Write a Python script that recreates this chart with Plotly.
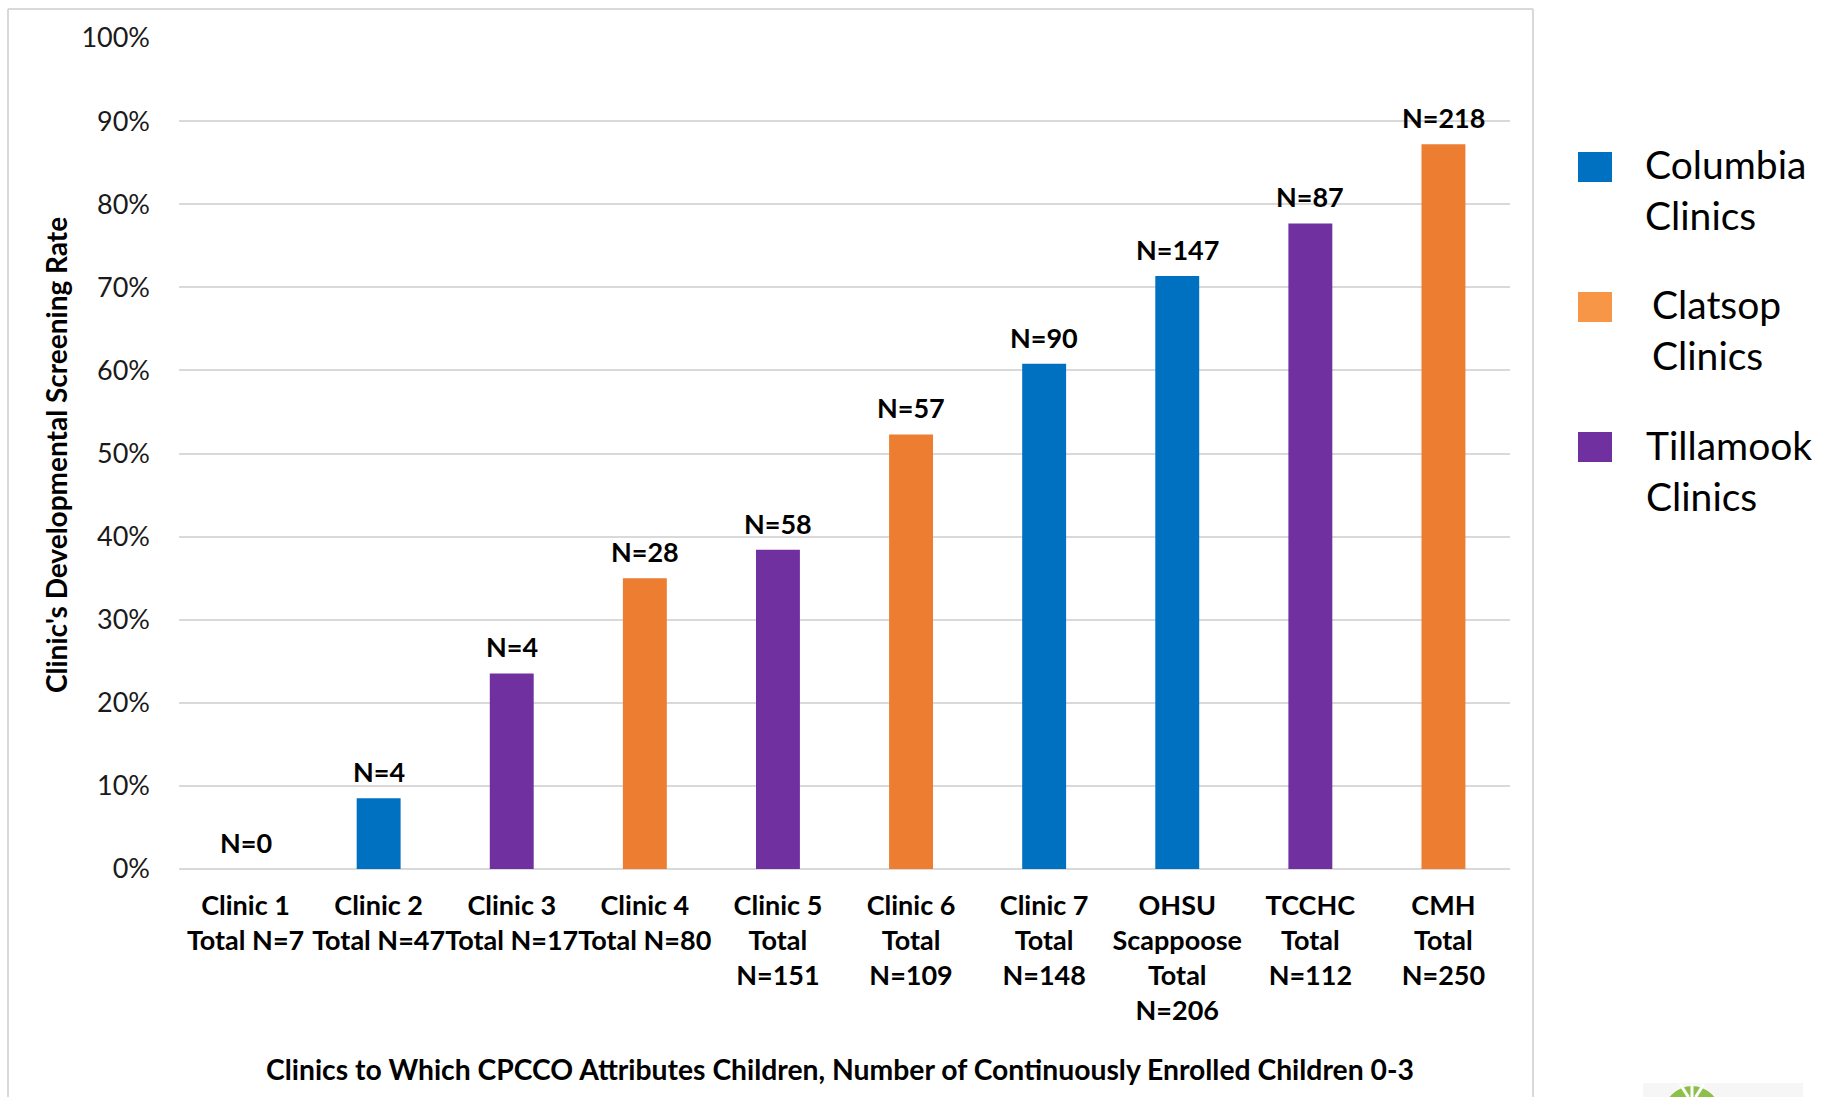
import plotly.graph_objects as go

# ---- data -------------------------------------------------------------
clinic_names = ["Clinic 1", "Clinic 2", "Clinic 3", "Clinic 4", "Clinic 5",
                "Clinic 6", "Clinic 7", "OHSU Scappoose", "TCCHC", "CMH"]
tick_labels = ["Clinic 1<br>Total N=7", "Clinic 2<br>Total N=47",
               "Clinic 3<br>Total N=17", "Clinic 4<br>Total N=80",
               "Clinic 5<br>Total<br>N=151", "Clinic 6<br>Total<br>N=109",
               "Clinic 7<br>Total<br>N=148", "OHSU<br>Scappoose<br>Total<br>N=206",
               "TCCHC<br>Total<br>N=112", "CMH<br>Total<br>N=250"]
totals = [7, 47, 17, 80, 151, 109, 148, 206, 112, 250]
screened = [0, 4, 4, 28, 58, 57, 90, 147, 87, 218]
regions = ["Columbia", "Columbia", "Tillamook", "Clatsop", "Tillamook",
           "Clatsop", "Columbia", "Columbia", "Tillamook", "Clatsop"]
region_order = ["Columbia", "Clatsop", "Tillamook"]
legend_labels = ["Columbia<br>Clinics", "Clatsop<br>Clinics", "Tillamook<br>Clinics"]
y_ticks = [0.0, 0.1, 0.2, 0.3, 0.4, 0.5, 0.6, 0.7, 0.8, 0.9, 1.0]

rates = [s / t for s, t in zip(screened, totals)]

bar_colors = {"Columbia": "#0070C0", "Clatsop": "#ED7D31", "Tillamook": "#7030A0"}
swatch_colors = {"Columbia": "#0070C0", "Clatsop": "#F79646", "Tillamook": "#7030A0"}

FONT = "Lato"
W, H = 1840, 1097
ML, MR, MT, MB = 179, 330, 38, 228
PW, PH = W - ML - MR, H - MT - MB


def px(x):
    return (x - ML) / PW


def py(y):
    return (H - MB - y) / PH


fig = go.Figure()

for reg in region_order:
    idx = [i for i, r in enumerate(regions) if r == reg]
    fig.add_trace(go.Bar(
        x=[clinic_names[i] for i in idx],
        y=[rates[i] for i in idx],
        name=reg,
        width=0.33,
        marker=dict(color=bar_colors[reg], line=dict(width=0)),
        showlegend=False,
        hoverinfo="skip",
    ))

annotations = []
# counts above each bar
for name, rate, n in zip(clinic_names, rates, screened):
    annotations.append(dict(
        x=name, y=rate, xref="x", yref="y", text=f"N={n}", showarrow=False,
        yanchor="bottom", yshift=8,
        font=dict(family=FONT, size=27, color="#000000", weight=700),
    ))

# axis titles
annotations.append(dict(
    x=px(56), y=py(455), xref="paper", yref="paper",
    text="Clinic's Developmental Screening Rate", textangle=-90,
    showarrow=False, xanchor="center", yanchor="middle",
    font=dict(family=FONT, size=28, color="#000000", weight=700),
))
annotations.append(dict(
    x=px(840), y=py(1069), xref="paper", yref="paper",
    text="Clinics to Which CPCCO Attributes Children, Number of Continuously Enrolled Children 0-3",
    showarrow=False, xanchor="center", yanchor="middle",
    font=dict(family=FONT, size=28.3, color="#000000", weight=700),
))

shapes = []
# legend swatches and labels
legend_rows = [(167, 1643), (307, 1650), (447, 1644)]
for reg, lab, (cy, tx) in zip(region_order, legend_labels, legend_rows):
    shapes.append(dict(
        type="rect", xref="paper", yref="paper",
        x0=px(1578), x1=px(1612), y0=py(cy - 15), y1=py(cy + 15),
        fillcolor=swatch_colors[reg], line=dict(width=0),
    ))
    annotations.append(dict(
        x=px(tx), y=py(cy + 23), xref="paper", yref="paper", text=lab,
        showarrow=False, xanchor="left", yanchor="middle", align="left",
        font=dict(family=FONT, size=39, color="#000000"),
    ))

# chart-area frame
frame = "#D9D9D9"
for x0, y0, x1, y1 in [(8, 9, 1533, 9), (8, 9, 8, 1100), (1533, 9, 1533, 1100)]:
    shapes.append(dict(type="line", xref="paper", yref="paper",
                       x0=px(x0), y0=py(y0), x1=px(x1), y1=py(y1),
                       line=dict(color=frame, width=2)))

# corner logo peeking in at the bottom edge
shapes.append(dict(type="rect", xref="paper", yref="paper",
                   x0=px(1643), x1=px(1803), y0=py(1083), y1=py(1100),
                   fillcolor="#F6F6F6", line=dict(width=0)))
shapes.append(dict(type="circle", xref="paper", yref="paper",
                   x0=px(1664), x1=px(1720), y0=py(1086), y1=py(1142),
                   fillcolor="#8CC04A", line=dict(width=0)))
for dx in (-12, 0, 12):
    shapes.append(dict(type="line", xref="paper", yref="paper",
                       x0=px(1692 + dx * 0.3), y0=py(1097), x1=px(1692 + dx), y1=py(1084),
                       line=dict(color="#FFFFFF", width=3)))

fig.update_layout(
    width=W, height=H,
    margin=dict(l=ML, r=MR, t=MT, b=MB, autoexpand=False),
    paper_bgcolor="#FFFFFF", plot_bgcolor="#FFFFFF",
    barmode="overlay",
    showlegend=False,
    font=dict(family=FONT, color="#000000"),
    annotations=annotations,
    shapes=shapes,
    xaxis=dict(
        type="category", categoryorder="array", categoryarray=clinic_names,
        tickmode="array", tickvals=clinic_names, ticktext=tick_labels,
        tickfont=dict(family=FONT, size=27, color="#000000", weight=700),
        tickangle=0, ticks="", ticklabelstandoff=18,
        showgrid=False, showline=False, zeroline=False,
        range=[-0.5, len(clinic_names) - 0.5], automargin=False,
    ),
    yaxis=dict(
        range=[0, 1], tickmode="array", tickvals=y_ticks, tickformat=".0%",
        tickfont=dict(family=FONT, size=27, color="#1A1A1A"),
        ticks="", ticklabelstandoff=28,
        showgrid=True, gridcolor="#D9D9D9", gridwidth=1.5,
        zeroline=True, zerolinecolor="#D9D9D9", zerolinewidth=1.5,
        showline=False, automargin=False,
    ),
)

fig.write_html("out.html")
